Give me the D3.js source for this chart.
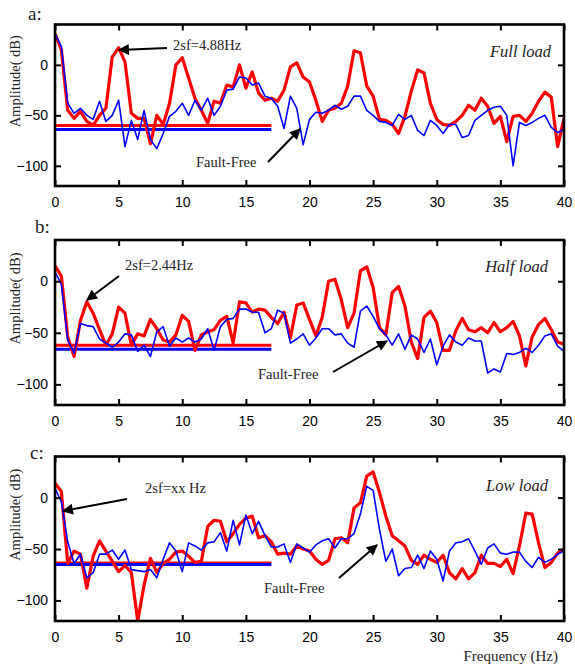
<!DOCTYPE html>
<meta charset="utf-8">
<style>
  body { margin: 0; background: #fff; }
  .tick text { font-family: "Liberation Sans", Arial, sans-serif; font-size: 14px; fill: #000; }
  .serif { font-family: "Liberation Serif", "Times New Roman", "DejaVu Serif", serif; fill: #222; }
</style>
<body>
<div id="chart"></div>
<script src="https://cdn.jsdelivr.net/npm/d3@7"></script>
<script>
  // FFT bins, 0.5 Hz apart, 0..40 Hz
  const freq = d3.range(0, 40.01, 0.5);
  const xTicks = [0, 5, 10, 15, 20, 25, 30, 35, 40];
  const yTicks = [-100, -50, 0];

  // a: full load
  const redA = [31, 15, -45, -53, -46, -56, -60, -50, -43, 8,
    17, 3, -48, -53, -53, -78, -50, -59, -38, 0,
    7, -13, -33, -45, -58, -36, -38, -20, -22, 0,
    -23, -7, -28, -35, -33, -36, -25, -2, 2, -12,
    -17, -35, -56, -45, -43, -38, -21, 14, 12, -21,
    -31, -54, -55, -59, -68, -51, -26, -5, -8, -38,
    -54, -59, -60, -56, -50, -40, -45, -33, -41, -58,
    -51, -76, -51, -50, -56, -48, -36, -27, -32, -81,
    -53];
  const blueA = [31, 18, -38, -48, -43, -50, -54, -36, -56, -50,
    -35, -81, -55, -74, -45, -74, -83, -68, -51, -46,
    -38, -50, -35, -45, -33, -50, -41, -25, -24, -12,
    -13, -20, -18, -31, -33, -41, -63, -31, -43, -79,
    -54, -47, -48, -45, -40, -44, -41, -31, -31, -45,
    -50, -56, -57, -60, -49, -54, -50, -65, -70, -55,
    -60, -68, -59, -59, -72, -70, -55, -50, -45, -42,
    -41, -50, -100, -57, -60, -57, -53, -50, -62, -67,
    -64];

  // b: half load
  const redB = [15, 5, -54, -73, -38, -20, -31, -47, -62, -51,
    -25, -31, -62, -51, -53, -37, -46, -57, -59, -52,
    -33, -39, -67, -52, -49, -47, -38, -34, -60, -20,
    -21, -30, -27, -28, -35, -41, -30, -55, -23, -21,
    -37, -53, -35, 0, 2, -18, -45, -31, 10, 14,
    -6, -45, -52, -11, -5, -24, -59, -75, -35, -29,
    -40, -67, -67, -48, -36, -47, -49, -45, -50, -40,
    -49, -45, -39, -53, -82, -54, -42, -36, -47, -59,
    -61];
  const blueB = [9, -3, -57, -70, -41, -43, -44, -56, -60, -64,
    -59, -51, -52, -68, -62, -73, -49, -44, -63, -55,
    -59, -55, -59, -56, -46, -67, -44, -37, -36, -27,
    -27, -30, -30, -50, -46, -28, -31, -60, -56, -51,
    -62, -55, -46, -46, -52, -51, -60, -64, -29, -24,
    -34, -46, -52, -62, -51, -66, -52, -56, -69, -56,
    -81, -63, -52, -59, -62, -55, -58, -58, -89, -85,
    -88, -70, -71, -69, -65, -69, -62, -53, -51, -63,
    -68];

  // c: low load
  const redC = [14, 6, -64, -52, -55, -88, -57, -42, -52, -62,
    -72, -66, -73, -120, -85, -59, -73, -64, -60, -53,
    -52, -57, -63, -62, -28, -22, -23, -43, -35, -26,
    -20, -18, -39, -37, -43, -55, -54, -55, -47, -50,
    -52, -60, -65, -61, -40, -39, -44, -10, -5, 21,
    25, 5, -18, -37, -42, -47, -61, -65, -56, -60,
    -63, -56, -73, -79, -69, -79, -73, -56, -64, -64,
    -67, -60, -74, -47, -15, -16, -44, -68, -63, -54,
    -50];
  const blueC = [9, -4, -43, -64, -55, -78, -73, -55, -55, -51,
    -60, -51, -70, -71, -72, -70, -78, -60, -44, -52,
    -72, -44, -47, -51, -44, -43, -34, -52, -22, -46,
    -17, -35, -23, -37, -48, -48, -45, -63, -45, -49,
    -53, -46, -42, -40, -49, -40, -40, -35, -16, 11,
    7, -31, -62, -50, -76, -69, -68, -56, -69, -52,
    -60, -81, -52, -44, -43, -40, -52, -65, -49, -45,
    -54, -55, -53, -53, -62, -68, -58, -63, -60, -55,
    -52];

  // mean levels drawn over 0..17 Hz
  const levelRed = [-60, -62, -63.5];
  const levelBlue = [-64, -66, -65];
  const levelEnd = 17;

  const panelTags = ['a:', 'b:', 'c:'];
  const loadNames = ['Full load', 'Half load', 'Low load'];
  const peakNotes = ['2sf=4.88Hz', '2sf=2.44Hz', '2sf=xx Hz'];

  const width = 575, height = 669;
  const left = 55, right = 564;
  const panels = [
    { top: 24.5, bottom: 186, red: redA, blue: blueA,
      note: { x: 173, y: 50, from: [167, 48], to: [119, 50] },
      ff: { x: 196, y: 167, from: [268, 162], to: [300, 129] },
      tag: [28, 20], load: [551, 57] },
    { top: 240, bottom: 405, red: redB, blue: blueB,
      note: { x: 125, y: 270, from: [119, 276], to: [87, 300] },
      ff: { x: 258, y: 379, from: [333, 372], to: [387, 341] },
      tag: [35, 233], load: [548, 272] },
    { top: 456.5, bottom: 621, red: redC, blue: blueC,
      note: { x: 145, y: 493, from: [127, 499], to: [63, 511] },
      ff: { x: 264, y: 593, from: [339, 578], to: [377, 545] },
      tag: [30, 459], load: [548, 491] }
  ];

  const svg = d3.select('#chart').append('svg').
      attr('width', width).
      attr('height', height);

  svg.append('defs').append('marker').
      attr('id', 'head').
      attr('viewBox', '0 0 10 10').
      attr('refX', 9).attr('refY', 5).
      attr('markerWidth', 6).attr('markerHeight', 5.5).
      attr('markerUnits', 'strokeWidth').
      attr('orient', 'auto').
      append('path').attr('d', 'M0,0L10,5L0,10z').attr('fill', '#000');

  const x = d3.scaleLinear().domain([0, 40]).range([left, right]);

  panels.forEach((p, k) => {
    const y = d3.scaleLinear().domain([-120, 40]).range([p.bottom, p.top]);
    const g = svg.append('g');

    g.append('clipPath').attr('id', 'clip' + k).
        append('rect').
        attr('x', left).attr('y', p.top).
        attr('width', right - left).attr('height', p.bottom - p.top);

    const line = d3.line().
        x((d, i) => x(freq[i])).
        y(d => y(d));

    const plot = g.append('g').attr('clip-path', `url(#clip${k})`);

    // level lines
    plot.append('line').
        attr('x1', x(0)).attr('x2', x(levelEnd)).
        attr('y1', y(levelRed[k])).attr('y2', y(levelRed[k])).
        attr('stroke', '#ff0000').attr('stroke-width', 3);
    plot.append('line').
        attr('x1', x(0)).attr('x2', x(levelEnd)).
        attr('y1', y(levelBlue[k])).attr('y2', y(levelBlue[k])).
        attr('stroke', '#0000ff').attr('stroke-width', 3);

    plot.append('path').datum(p.red).
        attr('d', line).
        attr('fill', 'none').
        attr('stroke', '#ff0000').
        attr('stroke-width', 3.2).
        attr('stroke-linejoin', 'round');
    plot.append('path').datum(p.blue).
        attr('d', line).
        attr('fill', 'none').
        attr('stroke', '#0000ff').
        attr('stroke-width', 1.6).
        attr('stroke-linejoin', 'round');

    // axes, ticks inside on all four sides
    const ax = (sel) => {
      sel.select('.domain').remove();
      sel.selectAll('.tick line').attr('stroke', '#000').attr('stroke-width', 2);
    };
    g.append('g').attr('transform', `translate(0,${p.bottom})`).
        call(d3.axisBottom(x).tickValues(xTicks).tickSize(-6).tickPadding(11)).
        call(ax);
    g.append('g').attr('transform', `translate(0,${p.top})`).
        call(d3.axisTop(x).tickValues(xTicks).tickSize(-6).tickFormat('')).
        call(ax);
    g.append('g').attr('transform', `translate(${left},0)`).
        call(d3.axisLeft(y).tickValues(yTicks).tickSize(-6).tickPadding(7)).
        call(ax);
    g.append('g').attr('transform', `translate(${right},0)`).
        call(d3.axisRight(y).tickValues(yTicks).tickSize(-6).tickFormat('')).
        call(ax);
    g.selectAll('.tick text').attr('fill', '#000');

    g.append('rect').
        attr('x', left).attr('y', p.top).
        attr('width', right - left).attr('height', p.bottom - p.top).
        attr('fill', 'none').attr('stroke', '#000').attr('stroke-width', 2.6);

    g.append('text').attr('class', 'serif').
        attr('transform', `translate(20,${(p.top + p.bottom) / 2 - 24}) rotate(-90)`).
        attr('text-anchor', 'middle').
        attr('font-size', 14.5).
        text('Amplitude( dB)');

    g.append('text').attr('class', 'serif').
        attr('x', p.tag[0]).attr('y', p.tag[1]).
        attr('font-size', 19).
        text(panelTags[k]);

    g.append('text').attr('class', 'serif').
        attr('x', p.load[0]).attr('y', p.load[1]).
        attr('text-anchor', 'end').
        attr('font-size', 16.5).
        attr('font-style', 'italic').
        text(loadNames[k]);

    g.append('text').attr('class', 'serif').
        attr('x', p.note.x).attr('y', p.note.y).
        attr('font-size', 14.5).
        text(peakNotes[k]);
    g.append('text').attr('class', 'serif').
        attr('x', p.ff.x).attr('y', p.ff.y).
        attr('font-size', 14.5).
        text('Fault-Free');

    [p.note, p.ff].forEach(a => {
      g.append('line').
          attr('x1', a.from[0]).attr('y1', a.from[1]).
          attr('x2', a.to[0]).attr('y2', a.to[1]).
          attr('stroke', '#000').attr('stroke-width', 2).
          attr('marker-end', 'url(#head)');
    });
  });

  svg.append('text').attr('class', 'serif').
      attr('x', 558).attr('y', 661).
      attr('text-anchor', 'end').
      attr('font-size', 15).
      text('Frequency (Hz)');
</script>
